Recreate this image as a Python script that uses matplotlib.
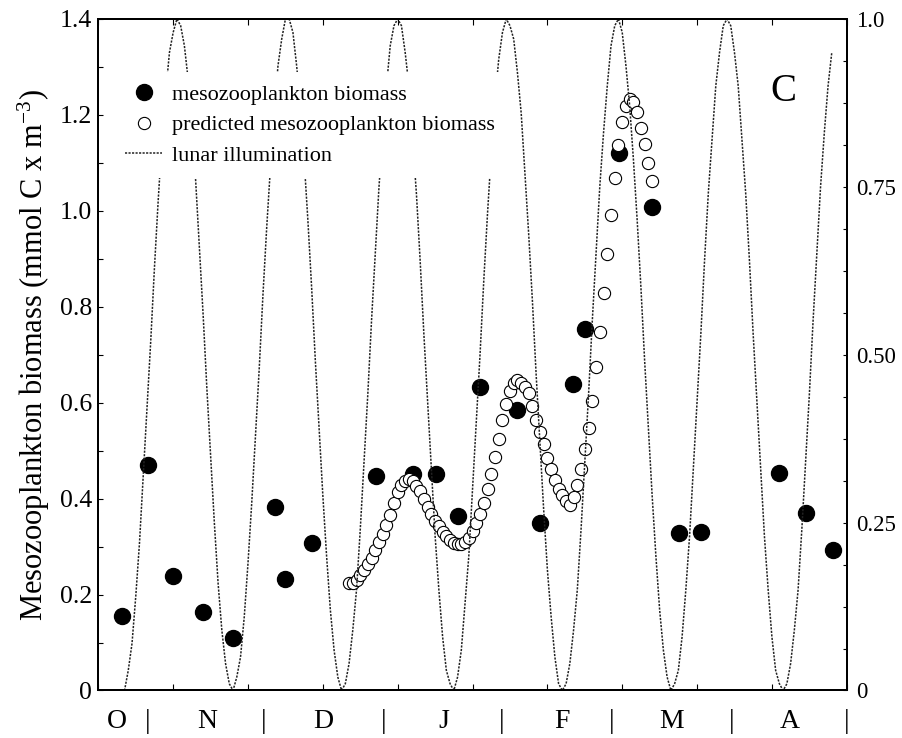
import matplotlib
matplotlib.use('Agg')
import matplotlib.pyplot as plt
import matplotlib.transforms as mtransforms
from matplotlib.ticker import MultipleLocator, FixedLocator, FixedFormatter

plt.rcParams['font.family'] = ['Liberation Serif', 'DejaVu Serif']
plt.rcParams['mathtext.fontset'] = 'custom'
plt.rcParams['mathtext.rm'] = 'Liberation Serif'
plt.rcParams['mathtext.it'] = 'Liberation Serif:italic'

# observed mesozooplankton biomass (day from mid-October, mmol C m-3)
bio_day = [6.3, 13.2, 20.0, 28.1, 36.1, 47.2, 49.9, 57.2, 74.1, 84.0, 90.2, 96.2,
           102.0, 111.8, 118.0, 126.8, 130.1, 139.2, 147.9, 155.3, 161.0, 182.0, 189.0, 196.3]
bio = [0.155, 0.470, 0.239, 0.163, 0.109, 0.383, 0.232, 0.307, 0.447, 0.451, 0.451, 0.363,
       0.632, 0.585, 0.350, 0.639, 0.754, 1.120, 1.009, 0.328, 0.330, 0.454, 0.369, 0.293]

# predicted biomass, daily
pred_day = list(range(67, 149))
pred = [0.224, 0.225, 0.231, 0.240, 0.251, 0.263, 0.277, 0.293, 0.310, 0.327,
        0.345, 0.365, 0.390, 0.413, 0.428, 0.437, 0.440, 0.436, 0.427, 0.415,
        0.400, 0.383, 0.368, 0.354, 0.342, 0.331, 0.322, 0.314, 0.308, 0.305,
        0.305, 0.309, 0.318, 0.333, 0.350, 0.368, 0.390, 0.420, 0.452, 0.487,
        0.525, 0.563, 0.597, 0.625, 0.641, 0.647, 0.641, 0.633, 0.620, 0.594,
        0.564, 0.538, 0.513, 0.485, 0.462, 0.439, 0.421, 0.407, 0.394, 0.387,
        0.404, 0.428, 0.462, 0.503, 0.548, 0.604, 0.675, 0.748, 0.828, 0.911,
        0.991, 1.069, 1.137, 1.186, 1.219, 1.233, 1.227, 1.207, 1.173, 1.139,
        1.099, 1.062]

# lunar illumination (fraction), daily
lunar_day = list(range(6, 197))
lunar = [0.00, 0.00, 0.03, 0.07, 0.14, 0.22, 0.32, 0.42, 0.52, 0.63,
         0.73, 0.82, 0.89, 0.95, 0.98, 1.00, 0.99, 0.96, 0.91, 0.84,
         0.76, 0.66, 0.56, 0.45, 0.35, 0.25, 0.16, 0.09, 0.04, 0.01,
         0.00, 0.02, 0.05, 0.11, 0.19, 0.28, 0.38, 0.48, 0.59, 0.69,
         0.78, 0.86, 0.93, 0.97, 1.00, 1.00, 0.98, 0.93, 0.87, 0.79,
         0.70, 0.60, 0.49, 0.39, 0.29, 0.20, 0.12, 0.06, 0.02, 0.00,
         0.01, 0.04, 0.09, 0.15, 0.24, 0.34, 0.44, 0.55, 0.65, 0.75,
         0.83, 0.90, 0.96, 0.99, 1.00, 0.99, 0.95, 0.90, 0.82, 0.74,
         0.64, 0.53, 0.43, 0.33, 0.23, 0.15, 0.08, 0.03, 0.01, 0.00,
         0.02, 0.06, 0.13, 0.20, 0.30, 0.40, 0.50, 0.61, 0.71, 0.80,
         0.88, 0.94, 0.98, 1.00, 0.99, 0.97, 0.92, 0.86, 0.77, 0.68,
         0.58, 0.47, 0.37, 0.27, 0.18, 0.11, 0.05, 0.01, 0.00, 0.01,
         0.04, 0.09, 0.15, 0.24, 0.34, 0.44, 0.55, 0.65, 0.75, 0.83,
         0.90, 0.96, 0.99, 1.00, 0.98, 0.93, 0.87, 0.79, 0.70, 0.60,
         0.49, 0.39, 0.29, 0.20, 0.12, 0.06, 0.02, 0.00, 0.01, 0.03,
         0.08, 0.15, 0.23, 0.33, 0.43, 0.53, 0.64, 0.74, 0.82, 0.90,
         0.95, 0.99, 1.00, 0.99, 0.95, 0.90, 0.82, 0.74, 0.64, 0.53,
         0.43, 0.33, 0.23, 0.15, 0.08, 0.03, 0.01, 0.00, 0.01, 0.04,
         0.09, 0.15, 0.24, 0.34, 0.44, 0.55, 0.65, 0.75, 0.83, 0.90,
         0.95]

months = ['O', 'N', 'D', 'J', 'F', 'M', 'A']
month_pos = [4.9, 29.0, 60.1, 92.2, 123.8, 153.2, 184.8]
sep_pos = [13.2, 44.1, 76.2, 107.8, 137.2, 169.3, 200.0]

left_ticks = [0, 0.2, 0.4, 0.6, 0.8, 1.0, 1.2, 1.4]
left_labels = ['0', '0.2', '0.4', '0.6', '0.8', '1.0', '1.2', '1.4']
right_ticks = [0, 0.25, 0.5, 0.75, 1.0]
right_labels = ['0', '0.25', '0.50', '0.75', '1.0']

fig = plt.figure(figsize=(9.03, 7.38), dpi=100)
ax = fig.add_axes([0.1089, 0.0644, 0.8288, 0.9099])
ax.set_xlim(0, 200)
ax.set_ylim(0, 1.4)

h1, = ax.plot(bio_day, bio, 'o', ms=11.5, mfc='black', mec='black', zorder=3)
h2, = ax.plot(pred_day, pred, 'o', ms=8.8, mfc='white', mec='black', mew=0.8, zorder=4)

ax2 = ax.twinx()
ax2.set_ylim(0, 1)
h3, = ax2.plot(lunar_day, lunar, color='#222222', lw=1.1, dashes=(1.4, 0.9))

ax.xaxis.set_major_locator(MultipleLocator(20))
ax.tick_params(axis='x', which='both', direction='in', top=True, bottom=True,
               labelbottom=False, length=4.5, width=0.8)
ax.yaxis.set_major_locator(FixedLocator(left_ticks))
ax.yaxis.set_major_formatter(FixedFormatter(left_labels))
ax.yaxis.set_minor_locator(MultipleLocator(0.1))
ax.tick_params(axis='y', which='both', direction='in', length=3.5, width=0.8,
               labelsize=18.5, pad=4.5)

ax2.yaxis.set_major_locator(FixedLocator(right_ticks))
ax2.yaxis.set_major_formatter(FixedFormatter(right_labels))
ax2.yaxis.set_minor_locator(MultipleLocator(0.0625))
ax2.tick_params(axis='y', which='both', direction='in', length=2.8, width=0.8,
                labelsize=16.5, pad=7)

for a in (ax, ax2):
    for s in a.spines.values():
        s.set_linewidth(1.4)

ax.set_ylabel('Mesozooplankton biomass (mmol C x m$^{-3}$)', fontsize=22)
ax.yaxis.set_label_coords(-0.0625, 0.5)

trans = mtransforms.blended_transform_factory(ax.transData, ax.transAxes)
for x, m in zip(month_pos, months):
    ax.text(x, -0.0563, m, transform=trans, ha='center', va='baseline', fontsize=20, clip_on=False)
for x in sep_pos:
    ax.text(x, -0.0563, '|', transform=trans, ha='center', va='baseline', fontsize=20, clip_on=False)

ax.text(183.0, 1.228, 'C', fontsize=28, ha='center', va='baseline')

leg = ax2.legend([h1, h2, h3],
                 ['mesozooplankton biomass', 'predicted mesozooplankton biomass', 'lunar illumination'],
                 loc='upper left', bbox_to_anchor=(0.0196, 0.9211), fontsize=16, numpoints=1,
                 handlelength=1.66, handletextpad=0.44, labelspacing=0.45, borderpad=0.55,
                 borderaxespad=0, frameon=True, framealpha=1, fancybox=False)
leg.get_frame().set_facecolor('white')
leg.get_frame().set_edgecolor('none')

fig.savefig('out.png', dpi=100)
